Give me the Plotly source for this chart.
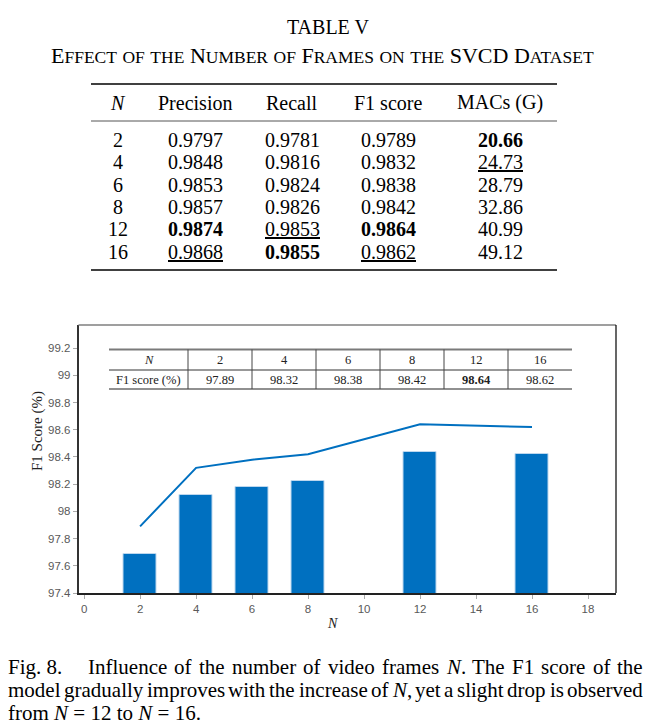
import plotly.graph_objects as go

# ---------------- data ----------------
n_frames = [2, 4, 6, 8, 12, 16]
precision = [0.9797, 0.9848, 0.9853, 0.9857, 0.9874, 0.9868]
recall = [0.9781, 0.9816, 0.9824, 0.9826, 0.9853, 0.9855]
f1 = [0.9789, 0.9832, 0.9838, 0.9842, 0.9864, 0.9862]
macs = [20.66, 24.73, 28.79, 32.86, 40.99, 49.12]

f1_pct = [97.89, 98.32, 98.38, 98.42, 98.64, 98.62]      # line
bar_vals = [97.69, 98.12, 98.18, 98.22, 98.44, 98.42]    # bars

x_ticks = [0, 2, 4, 6, 8, 10, 12, 14, 16, 18]
y_ticks = [97.4, 97.6, 97.8, 98.0, 98.2, 98.4, 98.6, 98.8, 99.0, 99.2]
y_tick_text = ["97.4", "97.6", "97.8", "98", "98.2", "98.4", "98.6", "98.8", "99", "99.2"]

table_headers = ["<i>N</i>", "Precision", "Recall", "F1 score", "MACs (G)"]
caption_line1_lead = "Fig. 8."
caption_line1 = ["Influence", "of", "the", "number", "of", "video", "frames",
                 "<i>N</i>.", "The", "F1", "score", "of", "the"]
caption_line2 = ["model", "gradually", "improves", "with", "the", "increase", "of",
                 "<i>N</i>,", "yet", "a", "slight", "drop", "is", "observed"]
caption_line3 = "from <i>N</i> = 12 to <i>N</i> = 16."

# ---------------- helpers ----------------
W, H = 649, 725
FIG_H = 731
SERIF = "Liberation Serif"
SANS = "Liberation Sans"


def px(x):
    return x / W


def py(y):
    return 1 - y / H


annotations = []
shapes = []


def text(x, y, s, size, family=SERIF, color="black", xanchor="center", yanchor="middle", textangle=0):
    annotations.append(dict(x=px(x), y=py(y), xref="paper", yref="paper", text=s,
                            showarrow=False, xanchor=xanchor, yanchor=yanchor,
                            textangle=textangle, borderpad=0,
                            font=dict(family=family, size=size, color=color)))


def hline(x0, x1, y, color="black", width=1):
    shapes.append(dict(type="line", xref="paper", yref="paper", x0=px(x0), x1=px(x1),
                       y0=py(y), y1=py(y), line=dict(color=color, width=width)))


def vline(x, y0, y1, color="black", width=1):
    shapes.append(dict(type="line", xref="paper", yref="paper", x0=px(x), x1=px(x),
                       y0=py(y0), y1=py(y1), line=dict(color=color, width=width)))


# Times / Liberation Serif advance widths (1/1000 em)
TW = {' ': 250, '.': 250, ',': 250, '(': 333, ')': 333, '=': 564, '%': 833}
for d in "0123456789":
    TW[d] = 500
TW.update(dict(A=722, B=667, C=667, D=722, E=611, F=556, G=722, H=722, I=333, J=389,
               K=722, L=611, M=889, N=722, O=722, P=556, Q=722, R=667, S=556, T=611,
               U=722, V=722, W=944, X=722, Y=722, Z=611))
TW.update(dict(a=444, b=500, c=444, d=500, e=444, f=333, g=500, h=500, i=278, j=278,
               k=500, l=278, m=778, n=500, o=500, p=500, q=500, r=333, s=389, t=278,
               u=500, v=500, w=722, x=500, y=500, z=444))


def word_width(w, size):
    plain = w.replace("<i>", "").replace("</i>", "")
    total = 0
    for ch in plain:
        total += TW.get(ch, 500)
    if "<i>N</i>" in w:
        total += 667 - 722
    return total * size / 1000.0


def justify(words, x0, x1, y, size):
    widths = [word_width(w, size) for w in words]
    gap = (x1 - x0 - sum(widths)) / (len(words) - 1)
    x = x0
    for w, wd in zip(words, widths):
        text(x, y, w, size, xanchor="left")
        x += wd + gap


# ---------------- TABLE V ----------------
text(328, 27, "TABLE V", 20)
small = 17.5


def smallcaps(s):
    out = []
    for word in s.split(" "):
        first, rest = word[0], word[1:]
        if first.isupper() and rest.isupper():
            out.append(first + rest)
        elif first.isupper():
            out.append(first + "<span style='font-size:%spx'>%s</span>" % (small, rest.upper()))
        else:
            out.append("<span style='font-size:%spx'>%s</span>" % (small, word.upper()))
    return " ".join(out)


text(322.5, 56, smallcaps("Effect of the Number of Frames on the SVCD Dataset"), 22)

col_x = [118, 195, 292, 388, 500]
hline(91, 557, 84, width=1.6)
hline(91, 557, 121, color="#555555", width=1)
hline(91, 557, 270, width=1.6)
for cx, h in zip(col_x, table_headers):
    text(cx, 103, h, 20)


def mark(vals, fmt, best_low=False):
    order = sorted(range(len(vals)), key=lambda i: vals[i], reverse=not best_low)
    out = []
    for i, v in enumerate(vals):
        s = fmt % v
        if i == order[0]:
            s = "<b>%s</b>" % s
        elif i == order[1]:
            s = "<u>%s</u>" % s
        out.append(s)
    return out


cols = [[str(n) for n in n_frames],
        mark(precision, "%.4f"), mark(recall, "%.4f"), mark(f1, "%.4f"),
        mark(macs, "%.2f", best_low=True)]
for r in range(len(n_frames)):
    yy = 139.5 + r * 22.5
    for c, cx in enumerate(col_x):
        text(cx, yy, cols[c][r], 20)

# ---------------- chart ----------------
fig = go.Figure()
fig.add_trace(go.Bar(x=n_frames, y=bar_vals, width=1.2,
                     marker=dict(color="#0070C0", line=dict(color="#BDD7EE", width=1))))
fig.add_trace(go.Scatter(x=n_frames, y=f1_pct, mode="lines",
                         line=dict(color="#0070C0", width=2)))

L, R, T, B = 78.5, 616, 325, 593
# box top/right
hline(L, R, T, color="#7f7f7f", width=1.5)
vline(R, T, B, color="black", width=1.2)

# embedded table
tl, first_w, col_w = 109, 79, 64
edges = [tl, tl + first_w] + [tl + first_w + col_w * (k + 1) for k in range(len(n_frames))]
hline(edges[0], edges[-1], 349.5, color="#7a7a7a", width=1.8)
hline(edges[0], edges[-1], 370, color="#333333", width=1)
hline(edges[0], edges[-1], 389, color="#222222", width=1.2)
for e in edges[1:-1]:
    vline(e, 349.5, 389, color="#444444", width=1)
row1 = ["<i>N</i>"] + [str(n) for n in n_frames]
best = max(f1_pct)
row2 = ["F1 score (%)"] + [("<b>%.2f</b>" % v) if v == best else ("%.2f" % v) for v in f1_pct]
for k in range(len(edges) - 1):
    cx = (edges[k] + edges[k + 1]) / 2
    text(cx, 360, row1[k], 12.5, color="#222222")
    text(cx, 380, row2[k], 12.5, color="#222222")

# axis titles
text(37, 431, "F1 Score (%)", 15, color="#222222", textangle=-90)
text(332, 623, "<i>N</i>", 14, color="#222222")

# ---------------- caption ----------------
csize = 21
text(6.5, 667, caption_line1_lead, csize, xanchor="left")
justify(caption_line1, 87, 642, 667, csize)
justify(caption_line2, 6.5, 642, 690, csize)
text(6.5, 712.5, caption_line3, csize, xanchor="left")

fig.update_layout(
    width=W, height=FIG_H,
    margin=dict(l=0, r=0, t=0, b=FIG_H - H),
    paper_bgcolor="white", plot_bgcolor="white",
    showlegend=False,
    bargap=0,
    xaxis=dict(domain=[px(L), px(R)], range=[-0.2, 19.0], tickvals=x_ticks,
               showgrid=False, zeroline=False, showline=True, linecolor="#222222", linewidth=2,
               ticks="outside", ticklen=4, tickcolor="#aaaaaa", tickwidth=1,
               tickfont=dict(family=SANS, size=11.5, color="#595959")),
    yaxis=dict(domain=[py(B), py(T)], range=[97.4, 99.37], tickvals=y_ticks, ticktext=y_tick_text,
               showgrid=False, zeroline=False, showline=True, linecolor="#333333", linewidth=1.5,
               ticks="outside", ticklen=4, tickcolor="#aaaaaa", tickwidth=1,
               tickfont=dict(family=SANS, size=11.5, color="#595959")),
    annotations=annotations,
    shapes=shapes,
)

fig.write_html("out.html",
               config={"displayModeBar": False},
               post_script="document.body.style.margin='0';document.body.style.padding='0';"
                           "document.body.style.overflow='hidden';")
